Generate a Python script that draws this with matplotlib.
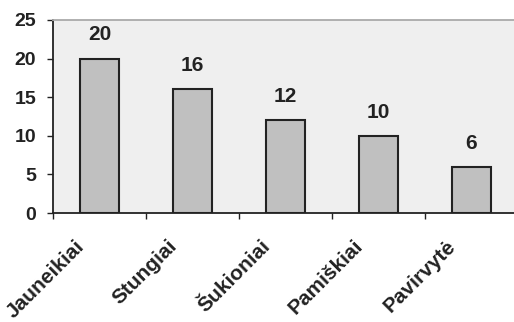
import matplotlib.pyplot as plt
import numpy as np

plt.rcParams['font.family'] = ['Liberation Sans', 'DejaVu Sans']

villages = ['Jauneikiai', 'Stungiai', 'Šukioniai', 'Pamiškiai', 'Pavirvytė']
counts = [20, 16, 12, 10, 6]
y_ticks = [0, 5, 10, 15, 20, 25]


def plot_villages():
    fig = plt.figure(figsize=(5.14, 3.22), dpi=100)
    ax = fig.add_axes([53 / 514, 1 - 213 / 322, 465 / 514, 193 / 322])
    ax.set_facecolor('#efefef')

    x = np.arange(len(villages))
    bars = ax.bar(x, counts, width=0.41, color='#c0c0c0',
                  edgecolor='#222222', linewidth=1.5, zorder=3)
    for bar, val in zip(bars, counts):
        ax.annotate(str(val), (bar.get_x() + bar.get_width() / 2, val),
                    xytext=(0, 17), textcoords='offset points',
                    ha='center', va='center', fontsize=15, fontweight='bold',
                    color='#222222')

    ax.set_xlim(-0.5, len(villages) - 0.5)
    ax.set_ylim(0, 25)
    ax.set_yticks(y_ticks)

    # names hang a little left of each bar; small ticks between categories
    ax.set_xticks(x - 0.27)
    ax.set_xticklabels(villages, rotation=45, ha='right',
                       rotation_mode='anchor', fontsize=15, fontweight='bold',
                       color='#222222')
    ax.tick_params(axis='x', which='major', length=0, pad=17)
    ax.set_xticks(np.arange(-0.5, len(villages) - 1), minor=True)
    ax.tick_params(axis='x', which='minor', length=4, width=1,
                   color='#222222', direction='out')
    ax.tick_params(axis='y', length=4, width=1, color='#222222', pad=8,
                   labelsize=14, labelcolor='#222222')
    for lbl in ax.get_yticklabels():
        lbl.set_fontweight('bold')

    ax.spines['left'].set_color('#222222')
    ax.spines['left'].set_linewidth(1.3)
    ax.spines['bottom'].set_color('#222222')
    ax.spines['bottom'].set_linewidth(1.3)
    ax.spines['top'].set_color('#aaaaaa')
    ax.spines['top'].set_linewidth(1.3)
    ax.spines['right'].set_visible(False)

    fig.savefig('out.png', dpi=100)


def main():
    plot_villages()


if __name__ == '__main__':
    main()
